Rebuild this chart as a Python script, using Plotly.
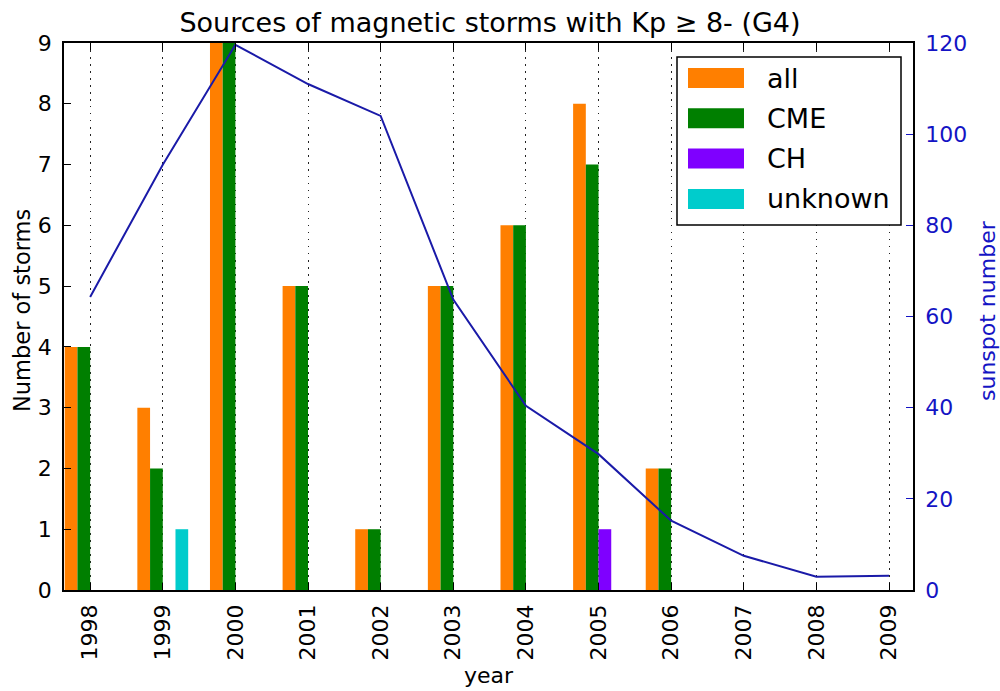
import plotly.graph_objects as go

# Yearly counts of G4 (Kp >= 8-) storms by source, plus yearly mean sunspot number
years = [1998, 1999, 2000, 2001, 2002, 2003, 2004, 2005, 2006, 2007, 2008, 2009]
storms_all = [4, 3, 9, 5, 1, 5, 6, 8, 2, 0, 0, 0]
storms_cme = [4, 2, 9, 5, 1, 5, 6, 7, 2, 0, 0, 0]
storms_ch = [0, 0, 0, 0, 0, 0, 0, 1, 0, 0, 0, 0]
storms_unknown = [0, 1, 0, 0, 0, 0, 0, 0, 0, 0, 0, 0]
sunspot = [64.3, 93.3, 119.6, 111.0, 104.0, 63.7, 40.4, 29.8, 15.2, 7.5, 2.9, 3.1]

series_names = ["all", "CME", "CH", "unknown"]
series_values = [storms_all, storms_cme, storms_ch, storms_unknown]
series_colors = ["#ff7f00", "#007f00", "#7f00ff", "#00cccc"]

W, H = 1000, 691
ML, MR, MT, MB = 64, 87, 43, 101
PW, PH = W - ML - MR, H - MT - MB

BAR_W = 0.175
SUN_COLOR = "#1a1aa8"
SUN_TICK = "#1414c4"
FONT = "DejaVu Sans"
TICK_SIZE = 22

fig = go.Figure()

for i, (name, vals, col) in enumerate(zip(series_names, series_values, series_colors)):
    fig.add_trace(go.Bar(
        x=years, y=vals, name=name,
        width=BAR_W, offset=(i - 2) * BAR_W,
        marker=dict(color=col, line=dict(width=0)),
        showlegend=False,
    ))

fig.add_trace(go.Scatter(
    x=years, y=sunspot, yaxis="y2", mode="lines",
    line=dict(color=SUN_COLOR, width=2),
    showlegend=False,
))


def px_x(px):
    return (px - ML) / PW


def px_y(py):
    return (H - MB - py) / PH


# Legend box with wide colour patches
shapes = [dict(type="rect", xref="paper", yref="paper",
               x0=px_x(677), x1=px_x(901), y0=px_y(225), y1=px_y(57),
               line=dict(color="black", width=1.5), fillcolor="white", layer="above")]
annotations = []
for i, (name, col) in enumerate(zip(series_names, series_colors)):
    top = 68 + i * 40.3
    shapes.append(dict(type="rect", xref="paper", yref="paper",
                       x0=px_x(688), x1=px_x(744), y0=px_y(top + 20), y1=px_y(top),
                       line=dict(width=0), fillcolor=col, layer="above"))
    annotations.append(dict(xref="paper", yref="paper", x=px_x(765), y=px_y(top + 10),
                            text=name, showarrow=False, xanchor="left", yanchor="middle",
                            font=dict(family=FONT, size=27, color="black")))

# Axis titles
annotations.append(dict(xref="paper", yref="paper", x=px_x(22), y=px_y(311),
                        text="Number of storms", textangle=-90, showarrow=False,
                        xanchor="center", yanchor="middle",
                        font=dict(family=FONT, size=22.5, color="black")))
annotations.append(dict(xref="paper", yref="paper", x=px_x(987), y=px_y(311),
                        text="sunspot number", textangle=-90, showarrow=False,
                        xanchor="center", yanchor="middle",
                        font=dict(family=FONT, size=22, color=SUN_TICK)))
annotations.append(dict(xref="paper", yref="paper", x=px_x(489), y=px_y(675),
                        text="year", showarrow=False,
                        xanchor="center", yanchor="middle",
                        font=dict(family=FONT, size=22, color="black")))

fig.update_layout(
    width=W, height=H,
    margin=dict(l=ML, r=MR, t=MT, b=MB),
    paper_bgcolor="white", plot_bgcolor="white",
    barmode="overlay",
    title=dict(text="Sources of magnetic storms with Kp ≥ 8- (G4)",
               x=px_x(490), xref="paper", xanchor="center",
               y=1 - 23 / H, yref="container", yanchor="middle",
               font=dict(family=FONT, size=27, color="black")),
    font=dict(family=FONT, color="black"),
    xaxis=dict(
        range=[1997.64, 2009.33],
        tickmode="array", tickvals=years, ticktext=[str(y) for y in years],
        tickangle=-90, tickfont=dict(size=TICK_SIZE),
        ticks="inside", ticklen=7, tickcolor="black",
        showline=True, linecolor="black", linewidth=1.5, mirror="ticks",
        showgrid=True, gridcolor="#222222", gridwidth=1, griddash="1.5px,5.5px",
        zeroline=False, ticklabelstandoff=4,
    ),
    yaxis=dict(
        range=[0, 9], dtick=1, tickfont=dict(size=TICK_SIZE),
        ticks="inside", ticklen=7, tickcolor="black",
        showline=True, linecolor="black", linewidth=1.5,
        showgrid=False, zeroline=False, ticklabelstandoff=6,
    ),
    yaxis2=dict(
        range=[0, 120], dtick=20, overlaying="y", side="right",
        tickfont=dict(size=TICK_SIZE, color=SUN_TICK),
        ticks="inside", ticklen=7, tickcolor=SUN_TICK,
        showline=True, linecolor="black", linewidth=1.5,
        showgrid=False, zeroline=False, ticklabelstandoff=6,
    ),
    shapes=shapes,
    annotations=annotations,
)

fig.write_html("out.html")
